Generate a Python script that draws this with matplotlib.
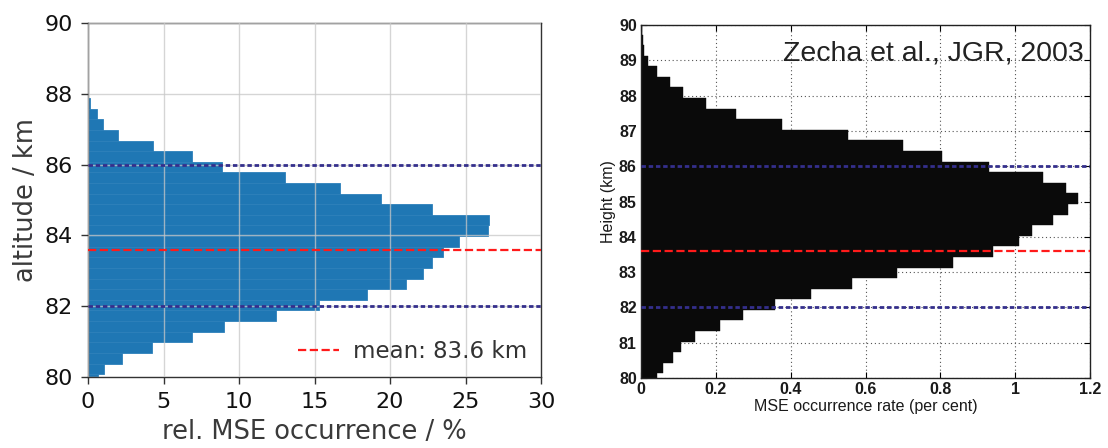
import matplotlib
matplotlib.use("Agg")
import matplotlib.pyplot as plt

# ---------------- data ----------------
# Left panel: relative MSE occurrence (%) in 0.3 km altitude bins (bin centres, km)
left_alt_km = [79.93, 80.23, 80.53, 80.83, 81.13, 81.43, 81.73, 82.03, 82.33,
               82.63, 82.93, 83.23, 83.53, 83.83, 84.13, 84.43, 84.73, 85.03,
               85.33, 85.63, 85.93, 86.23, 86.53, 86.83, 87.13, 87.43, 87.73]
left_occ_pct = [0.68, 1.04, 2.27, 4.25, 6.88, 9.0, 12.43, 15.3, 18.49,
                21.07, 22.17, 22.77, 23.5, 24.55, 26.47, 26.58, 22.77, 19.42,
                16.66, 13.07, 8.9, 6.9, 4.28, 1.96, 1.0, 0.62, 0.1]

# Right panel (Zecha et al., JGR, 2003): MSE occurrence rate (per cent)
right_alt_km = [79.98, 80.28, 80.58, 80.88, 81.18, 81.48, 81.78, 82.08, 82.38,
                82.68, 82.98, 83.28, 83.58, 83.88, 84.18, 84.48, 84.78, 85.08,
                85.38, 85.68, 85.98, 86.28, 86.58, 86.88, 87.18, 87.48, 87.78,
                88.08, 88.38, 88.68, 88.98, 89.28, 89.58, 89.88]
right_rate = [0.042, 0.06, 0.085, 0.107, 0.145, 0.21, 0.272, 0.357, 0.455,
              0.565, 0.683, 0.833, 0.94, 1.011, 1.044, 1.102, 1.142, 1.169,
              1.136, 1.075, 0.931, 0.804, 0.701, 0.552, 0.377, 0.253, 0.173,
              0.112, 0.078, 0.042, 0.018, 0.009, 0.005, 0.002]

bin_width_km = 0.3
mean_alt = 83.6
layer_bounds = [82, 86]

left_xticks = [0, 5, 10, 15, 20, 25, 30]
left_yticks = [80, 82, 84, 86, 88, 90]
right_xticks = [0, 0.2, 0.4, 0.6, 0.8, 1.0, 1.2]
right_xticklabels = ["0", "0.2", "0.4", "0.6", "0.8", "1", "1.2"]
right_yticks = list(range(80, 91))

# ---------------- figure ----------------
fig = plt.figure(figsize=(11.08, 4.48), dpi=100)
W, H = 1108, 448

BLUE_LINE = "#342f8c"
RED_LINE = "#ff1a1a"

# ---- left panel ----
axl = fig.add_axes([88 / W, (H - 377) / H, 453 / W, 354 / H])
axl.barh(left_alt_km, left_occ_pct, height=bin_width_km, color="#1f77b4",
         edgecolor="#2c80ba", linewidth=0.6, zorder=1)
axl.set_xlim(0, 30)
axl.set_ylim(80, 90)
axl.set_xticks(left_xticks)
axl.set_yticks(left_yticks)
axl.grid(True, color="#c8c8c8", alpha=0.75, linewidth=1.0, zorder=2)
axl.set_axisbelow(False)
for b in layer_bounds:
    axl.axhline(b, color=BLUE_LINE, linewidth=2.0, dashes=(1.6, 1.0), zorder=3)
axl.axhline(mean_alt, color=RED_LINE, linewidth=1.6, linestyle="--", zorder=4,
            label="mean: %.1f km" % mean_alt)
axl.tick_params(axis="both", labelsize=16, length=5, width=1, color="#333333",
                labelcolor="#111111", pad=6)
for s in axl.spines.values():
    s.set_color("#333333")
    s.set_linewidth(1.0)
axl.set_xlabel("rel. MSE occurrence / %", fontsize=18.5, color="#3a3a3a", labelpad=5)
axl.set_ylabel("altitude / km", fontsize=18.5, color="#3a3a3a", labelpad=4)
leg = axl.legend(loc="lower right", frameon=False, fontsize=16.5,
                 handlelength=1.8, handletextpad=0.6, borderaxespad=0.2)
for t in leg.get_texts():
    t.set_color("#333333")

# ---- right panel ----
axr = fig.add_axes([641 / W, (H - 378) / H, 449 / W, 353 / H])
axr.barh(right_alt_km, right_rate, height=bin_width_km, color="#0a0a0a",
         edgecolor="#0a0a0a", linewidth=0.3, zorder=1)
axr.set_xlim(0, 1.2)
axr.set_ylim(80, 90)
axr.set_xticks(right_xticks)
axr.set_xticklabels(right_xticklabels)
axr.set_yticks(right_yticks)
axr.grid(True, color="#555555", linestyle=(0, (1, 2.5)), linewidth=0.8, zorder=0.5)
axr.set_axisbelow(True)
for b in layer_bounds:
    axr.axhline(b, color=BLUE_LINE, linewidth=2.0, dashes=(1.6, 1.0), zorder=3)
axr.axhline(mean_alt, color=RED_LINE, linewidth=1.6, linestyle="--", zorder=4)
axr.tick_params(axis="both", direction="in", top=True, right=True, length=4,
                width=0.8, labelsize=11.5, pad=3)
for lab in axr.get_xticklabels() + axr.get_yticklabels():
    lab.set_fontfamily("Liberation Sans")
    lab.set_fontweight("bold")
    lab.set_color("#1a1a1a")
for s in axr.spines.values():
    s.set_color("#222222")
    s.set_linewidth(1.0)
axr.set_xlabel("MSE occurrence rate (per cent)", fontsize=11.5,
               family="Liberation Sans", color="#1a1a1a", labelpad=1)
axr.set_ylabel("Height (km)", fontsize=11.5, family="Liberation Sans",
               color="#1a1a1a", labelpad=2)
axr.text(0.985, 0.955, "Zecha et al., JGR, 2003", transform=axr.transAxes,
         ha="right", va="top", fontsize=20.5, family="Liberation Sans",
         color="#222222", zorder=5)

fig.savefig("out.png", dpi=100)
